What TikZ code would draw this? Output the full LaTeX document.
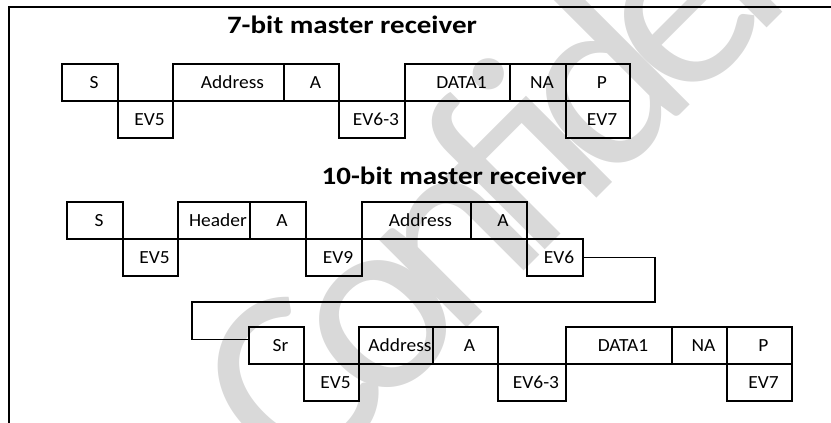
\documentclass[tikz,border=0pt]{standalone}
\usepackage{fontspec}
\setmainfont{Carlito}[FakeStretch=1.05]
\newfontfamily\ttlfont{Carlito}[FakeStretch=1.16]
\newfontfamily\wmfont{Carlito}[LetterSpace=-11]
\usetikzlibrary{positioning}

\begin{document}
\begin{tikzpicture}[
  x=1pt, y=-1pt,
  cell/.style={draw, line width=1.5pt, outer sep=0pt, inner sep=1pt,
               minimum height=37pt, font=\fontsize{18.5}{20}\selectfont,
               execute at begin node={\hspace*{8pt}}},
  ttl/.style={font=\ttlfont\bfseries\fontsize{25}{28}\selectfont},
  link/.style={line width=1.3pt},
  frame/.style={line width=1.2pt},
  wmark/.style={text=black!15, font=\wmfont\fontsize{260}{260}\selectfont,
                rotate=45, anchor=base west, inner sep=0pt},
]
\useasboundingbox (0,0) rectangle (831,423);

%% ---------- watermark and frame ----------
\begin{scope}
  \clip (0,0) rectangle (831,423);
  \node[wmark] (conf) at (300,495) {Confidential};
\end{scope}
\draw[frame] (9,423) -- (9,7) -- (831,7);

%% ---------- 7-bit master receiver ----------
\node[ttl] (title7) at (352,25) {7-bit master receiver};

\node[cell, minimum width=56pt, anchor=north west] (s1) at (62,64) {S};
\node[cell, minimum width=55pt, below right=0pt of s1] (ev5a) {EV5};
\node[cell, minimum width=111pt, above right=0pt of ev5a] (addr1) {Address};
\node[cell, minimum width=55pt, right=0pt of addr1] (ack1) {A};
\node[cell, minimum width=66pt, below right=0pt of ack1] (ev63a) {EV6-3};
\node[cell, minimum width=105pt, above right=0pt of ev63a] (data1) {DATA1};
\node[cell, minimum width=56pt, right=0pt of data1] (nack1) {NA};
\node[cell, minimum width=64pt, right=0pt of nack1] (stop1) {P};
\node[cell, minimum width=64pt, below=0pt of stop1] (ev7a) {EV7};

%% ---------- 10-bit master receiver ----------
\node[ttl] (title10) at (454,176) {10-bit master receiver};

\node[cell, minimum width=56pt, anchor=north west] (s2) at (67,202) {S};
\node[cell, minimum width=55pt, below right=0pt of s2] (ev5b) {EV5};
\node[cell, minimum width=72pt, above right=0pt of ev5b] (hdr) {Header};
\node[cell, minimum width=56pt, right=0pt of hdr] (ack2) {A};
\node[cell, minimum width=56pt, below right=0pt of ack2] (ev9) {EV9};
\node[cell, minimum width=109pt, above right=0pt of ev9] (addr2) {Address};
\node[cell, minimum width=56pt, right=0pt of addr2] (ack3) {A};
\node[cell, minimum width=56pt, below right=0pt of ack3] (ev6) {EV6};

%% ---------- repeated start row ----------
\node[cell, minimum width=55pt, anchor=north west] (sr) at (249,327) {Sr};
\node[cell, minimum width=55pt, below right=0pt of sr] (ev5c) {EV5};
\node[cell, minimum width=74pt, above right=0pt of ev5c] (addr3) {Address};
\node[cell, minimum width=65pt, right=0pt of addr3] (ack4) {A};
\node[cell, minimum width=68pt, below right=0pt of ack4] (ev63b) {EV6-3};
\node[cell, minimum width=106pt, above right=0pt of ev63b] (data2) {DATA1};
\node[cell, minimum width=55pt, right=0pt of data2] (nack2) {NA};
\node[cell, minimum width=65pt, right=0pt of nack2] (stop2) {P};
\node[cell, minimum width=65pt, below=0pt of stop2] (ev7b) {EV7};

%% ---------- wrap from EV6 down to Sr ----------
\coordinate (turnr) at (655,302);
\coordinate (turnl) at (192,302);
\draw[link] (ev6.east) -| (turnr) -- (turnl) |- ([yshift=6pt]sr.west);

\end{tikzpicture}
\end{document}
